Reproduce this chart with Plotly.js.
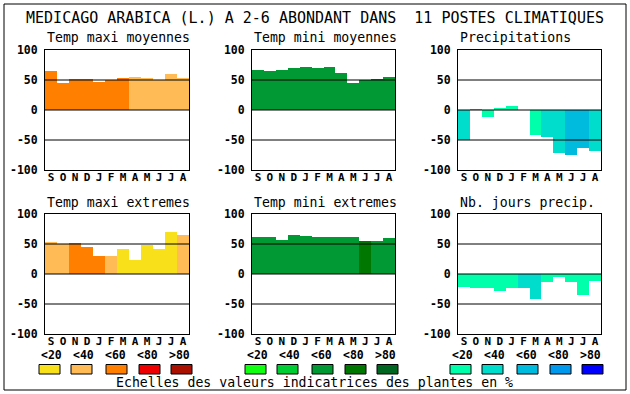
<!DOCTYPE html>
<html><head><meta charset="utf-8">
<script src="https://cdn.plot.ly/plotly-3.0.1.min.js"></script>
<style>html,body{margin:0;padding:0;background:#fff}#chart{width:630px;height:394px}</style>
</head><body><div id="chart"></div>
<script>
// ---- data ----
const months = ["S","O","N","D","J","F","M","A","M","J","J","A"];
const yTicks = [100, 50, 0, -50, -100];
const refLines = [50, 0, -50];
const scaleLabels = ["<20","<40","<60","<80",">80"];
const warmColors  = ["#F8E11A","#FFBB55","#FF7F00","#EE0000","#AA1100"];
const greenColors = ["#11FF11","#00CC33","#009933","#007700","#006622"];
const blueColors  = ["#00FFAA","#00DDCC","#00BBDD","#0099EE","#0000FF"];

const tmaxMoyValues = [65, 45, 52, 52, 47, 50, 53, 55, 53, 50, 60, 53];
const tmaxMoyClass  = [2, 2, 2, 2, 2, 2, 2, 1, 1, 1, 1, 1];
const tminMoyValues = [67, 65, 67, 70, 72, 70, 72, 62, 45, 50, 52, 55];
const tminMoyClass  = [2, 2, 2, 2, 2, 2, 2, 2, 2, 2, 2, 2];
const precipValues  = [-50, 2, -11, 3, 7, 0, -41, -45, -71, -75, -63, -68];
const precipClass   = [1, 0, 0, 0, 0, 0, 0, 1, 1, 2, 2, 1];
const tmaxExtValues = [54, 50, 52, 45, 30, 30, 42, 24, 49, 42, 70, 65];
const tmaxExtClass  = [1, 1, 2, 2, 2, 1, 0, 0, 0, 0, 0, 1];
const tminExtValues = [62, 62, 57, 65, 64, 62, 62, 62, 62, 55, 55, 60];
const tminExtClass  = [2, 2, 2, 2, 2, 2, 2, 2, 2, 3, 2, 2];
const nbJoursValues = [-21, -23, -23, -28, -23, -23, -41, -14, -5, -14, -35, -11];
const nbJoursClass  = [0, 0, 0, 0, 0, 1, 1, 0, 0, 0, 0, 0];

const panelTitles = ["Temp maxi moyennes","Temp mini moyennes","Precipitations",
                     "Temp maxi extremes","Temp mini extremes","Nb. jours precip."];
const mainTitle = "MEDICAGO ARABICA (L.) A 2-6 ABONDANT DANS  11 POSTES CLIMATIQUES";
const footText = "Echelles des valeurs indicatrices des plantes en %";

// ---- layout geometry (pixels) ----
const W = 630, H = 394;
const colX = [[45,189],[252,395],[458,601]];
const rowY = [[50,170],[214,334]];
const legendBase = [39, 245, 450];
const boxShift = [0, 0, 3, 4, 4];

const panels = [
  {v: tmaxMoyValues, c: tmaxMoyClass, p: warmColors,  col: 0, row: 0},
  {v: tminMoyValues, c: tminMoyClass, p: greenColors, col: 1, row: 0},
  {v: precipValues,  c: precipClass,  p: blueColors,  col: 2, row: 0},
  {v: tmaxExtValues, c: tmaxExtClass, p: warmColors,  col: 0, row: 1},
  {v: tminExtValues, c: tminExtClass, p: greenColors, col: 1, row: 1},
  {v: nbJoursValues, c: nbJoursClass, p: blueColors,  col: 2, row: 1}
];
const palettes = [warmColors, greenColors, blueColors];

const MONO = "DejaVu Sans Mono";
const px = x => x / W;
const py = y => 1 - y / H;

const traces = [];
const layout = {
  width: W, height: H,
  margin: {l:0, r:0, t:0, b:0},
  paper_bgcolor: "#fff", plot_bgcolor: "#fff",
  showlegend: false,
  bargap: 0,
  title: {text: mainTitle, font: {family: MONO, size: 15, color: "#000"},
          x: 0.5, xanchor: "center", y: py(18), yanchor: "middle", xref: "paper", yref: "paper"},
  shapes: [], annotations: []
};

const idx = months.map((m, i) => i);

panels.forEach((pn, i) => {
  const n = i + 1;
  const xa = "x" + (n === 1 ? "" : n), ya = "y" + (n === 1 ? "" : n);
  traces.push({
    type: "bar", x: idx, y: pn.v, xaxis: xa, yaxis: ya,
    width: 1,
    marker: {color: pn.c.map(k => pn.p[k]), line: {width: 0}},
    hoverinfo: "skip"
  });
  const [x0, x1] = colX[pn.col], [y0, y1] = rowY[pn.row];
  layout["xaxis" + (n === 1 ? "" : n)] = {
    domain: [px(x0), px(x1)], anchor: ya, range: [-0.5, 11.5],
    tickvals: idx, ticktext: months, ticks: "", ticklabelstandoff: -3,
    tickfont: {family: MONO, size: 11, weight: "bold", color: "#000"},
    showgrid: false, zeroline: false, showline: true, mirror: true,
    linecolor: "#000", linewidth: 1, fixedrange: true
  };
  layout["yaxis" + (n === 1 ? "" : n)] = {
    domain: [py(y1), py(y0)], anchor: xa, range: [-100, 100],
    tickvals: yTicks, ticktext: yTicks.map(String), ticks: "", ticklabelstandoff: 4,
    tickfont: {family: MONO, size: 11.5, weight: "bold", color: "#000"},
    showgrid: false, zeroline: false, showline: true, mirror: true,
    linecolor: "#000", linewidth: 1, fixedrange: true
  };
  refLines.forEach(v => {
    layout.shapes.push({type: "line", xref: xa + " domain", yref: ya, x0: 0, x1: 1, y0: v, y1: v,
      line: {color: "#000", width: 1}, layer: "above"});
  });
  layout.annotations.push({
    text: panelTitles[i], xref: "paper", yref: "paper",
    x: px(x0), y: py(pn.row === 0 ? 38 : 202), xanchor: "left", yanchor: "middle",
    showarrow: false, font: {family: MONO, size: 13.2, color: "#000"}
  });
});

// outer frame
layout.shapes.push({type: "rect", xref: "paper", yref: "paper",
  x0: px(4), x1: px(626), y0: py(390), y1: py(4), line: {color: "#000", width: 1}, layer: "below"});

// scale legend
palettes.forEach((pal, c) => {
  scaleLabels.forEach((lab, k) => {
    const lx = legendBase[c] + 32 * k;
    layout.annotations.push({
      text: lab, xref: "paper", yref: "paper", x: px(lx), y: py(354.5),
      xanchor: "left", yanchor: "middle", showarrow: false,
      font: {family: MONO, size: 11.5, weight: "bold", color: "#000"}
    });
    const bx = lx + boxShift[k];
    layout.shapes.push({type: "rect", xref: "paper", yref: "paper",
      x0: px(bx), x1: px(bx + 21), y0: py(374), y1: py(364.5),
      fillcolor: pal[k], line: {color: "#000", width: 1}});
  });
});
layout.annotations.push({
  text: footText, xref: "paper", yref: "paper", x: px(314), y: py(382),
  xanchor: "center", yanchor: "middle", showarrow: false,
  font: {family: MONO, size: 13.2, color: "#000"}
});

Plotly.newPlot("chart", traces, layout, {staticPlot: true, displayModeBar: false});
</script>
</body></html>
